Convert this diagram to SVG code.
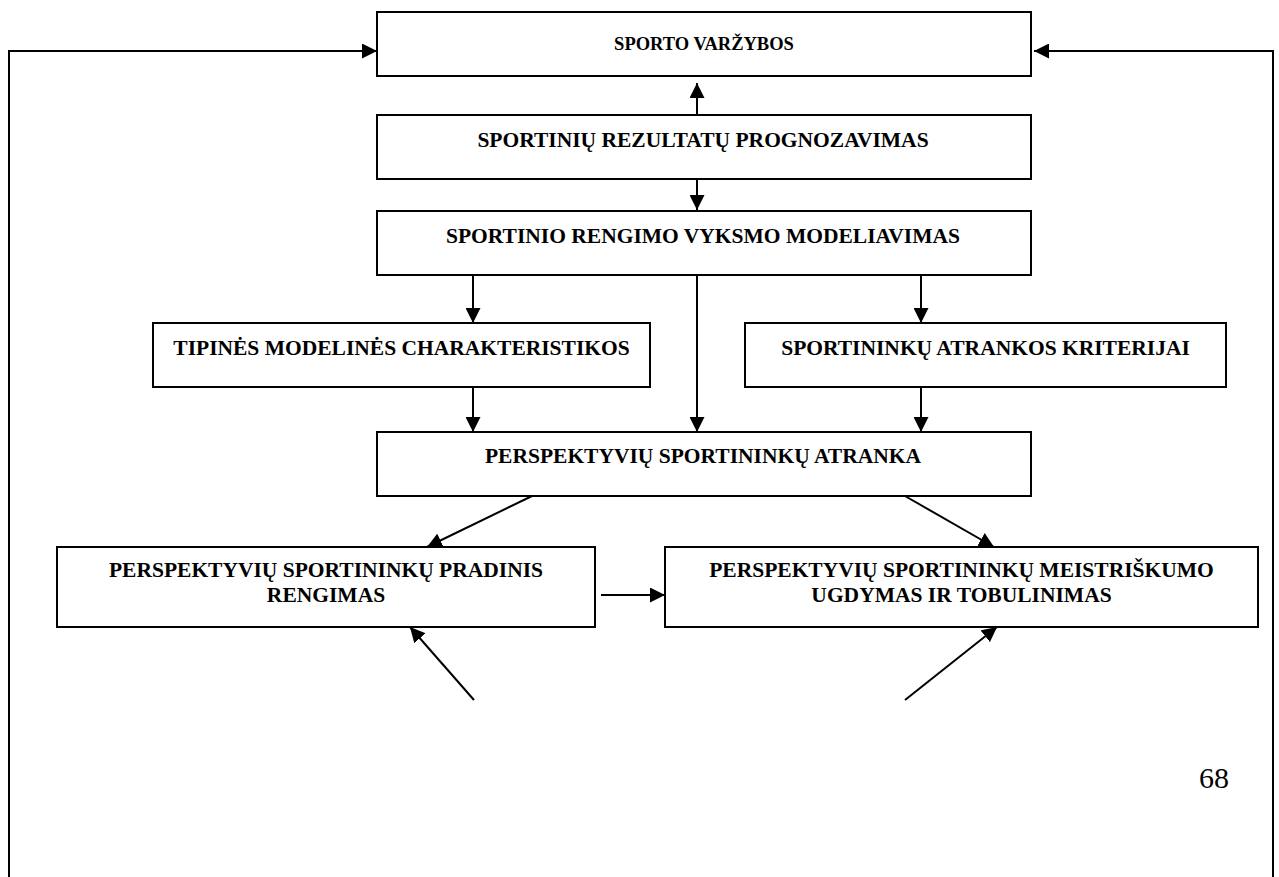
<svg xmlns="http://www.w3.org/2000/svg" width="1279" height="877" viewBox="0 0 1279 877">
  <defs>
    <marker id="arrow" viewBox="0 0 15 15" refX="15" refY="7.5" markerWidth="15" markerHeight="15" markerUnits="userSpaceOnUse" orient="auto">
      <path d="M0,0 L15,7.5 L0,15 z" fill="#000"/>
    </marker>
    <style>
      .box { fill: #fff; stroke: #000; stroke-width: 2; }
      .lbl { font-family: "Liberation Serif", "Times New Roman", serif; font-weight: bold; font-size: 21.5px; text-anchor: middle; fill: #000; }
      .title { font-size: 18.5px; }
      .conn { fill: none; stroke: #000; stroke-width: 2; }
      .page { font-family: "Liberation Serif", "Times New Roman", serif; font-size: 30px; fill: #000; }
    </style>
  </defs>
  <rect width="1279" height="877" fill="#fff"/>

  <!-- connectors -->
  <g id="connectors">
    <polyline class="conn" points="9,877 9,51 377,51" marker-end="url(#arrow)"/>
    <polyline class="conn" points="1273,877 1273,51 1034,51" marker-end="url(#arrow)"/>
    <line class="conn" x1="697" y1="115" x2="697" y2="83" marker-end="url(#arrow)"/>
    <line class="conn" x1="697" y1="179" x2="697" y2="210" marker-end="url(#arrow)"/>
    <line class="conn" x1="473" y1="275" x2="473" y2="323" marker-end="url(#arrow)"/>
    <line class="conn" x1="697" y1="275" x2="697" y2="432" marker-end="url(#arrow)"/>
    <line class="conn" x1="921" y1="275" x2="921" y2="323" marker-end="url(#arrow)"/>
    <line class="conn" x1="473" y1="387" x2="473" y2="432" marker-end="url(#arrow)"/>
    <line class="conn" x1="921" y1="387" x2="921" y2="432" marker-end="url(#arrow)"/>
    <line class="conn" x1="532" y1="496" x2="427" y2="547" marker-end="url(#arrow)"/>
    <line class="conn" x1="905" y1="496" x2="994" y2="547" marker-end="url(#arrow)"/>
    <line class="conn" x1="601" y1="595" x2="665" y2="595" marker-end="url(#arrow)"/>
    <line class="conn" x1="474" y1="700" x2="410" y2="627" marker-end="url(#arrow)"/>
    <line class="conn" x1="905" y1="700" x2="997" y2="627" marker-end="url(#arrow)"/>
  </g>

  <g id="n-varzybos">
    <rect class="box" x="377" y="12" width="654" height="64"/>
    <text class="lbl title" x="704" y="50">SPORTO VARŽYBOS</text>
  </g>
  <g id="n-prognozavimas">
    <rect class="box" x="377" y="115" width="654" height="64"/>
    <text class="lbl" x="703" y="147">SPORTINIŲ REZULTATŲ PROGNOZAVIMAS</text>
  </g>
  <g id="n-modeliavimas">
    <rect class="box" x="377" y="211" width="654" height="64"/>
    <text class="lbl" x="703" y="243">SPORTINIO RENGIMO VYKSMO MODELIAVIMAS</text>
  </g>
  <g id="n-charakteristikos">
    <rect class="box" x="153" y="323" width="497" height="64"/>
    <text class="lbl" x="401.5" y="355">TIPINĖS MODELINĖS CHARAKTERISTIKOS</text>
  </g>
  <g id="n-kriterijai">
    <rect class="box" x="745" y="323" width="481" height="64"/>
    <text class="lbl" x="985.5" y="355">SPORTININKŲ ATRANKOS KRITERIJAI</text>
  </g>
  <g id="n-atranka">
    <rect class="box" x="377" y="432" width="654" height="64"/>
    <text class="lbl" x="703" y="463">PERSPEKTYVIŲ SPORTININKŲ ATRANKA</text>
  </g>
  <g id="n-pradinis">
    <rect class="box" x="57" y="547" width="538" height="80"/>
    <text class="lbl" x="326" y="577">PERSPEKTYVIŲ SPORTININKŲ PRADINIS</text>
    <text class="lbl" x="326" y="602">RENGIMAS</text>
  </g>
  <g id="n-meistriskumas">
    <rect class="box" x="665" y="547" width="593" height="80"/>
    <text class="lbl" x="961.5" y="577">PERSPEKTYVIŲ SPORTININKŲ MEISTRIŠKUMO</text>
    <text class="lbl" x="961.5" y="602">UGDYMAS IR TOBULINIMAS</text>
  </g>

  <text class="page" x="1199" y="788">68</text>
</svg>
